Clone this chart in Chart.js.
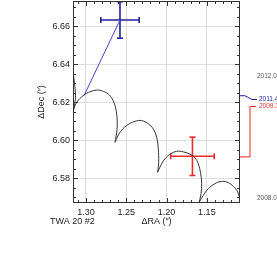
<!DOCTYPE html>
<html>
<head>
<meta charset="utf-8">
<script src="https://cdn.jsdelivr.net/npm/chart.js@4"></script>
<style>
  html, body { margin: 0; padding: 0; background: #fff; }
  #wrap { width: 277px; height: 268px; }
</style>
</head>
<body>
<div id="wrap"><canvas id="chart"></canvas></div>
<script>
// tick values
const raTicks = [1.30, 1.25, 1.20, 1.15];
const decTicks = [6.58, 6.60, 6.62, 6.64, 6.66];

// parallax + proper motion track, one array per hump (cusps between)
const arc0RA  = [1.3186, 1.3161, 1.3143, 1.3130, 1.3140, 1.3161];
const arc0Dec = [6.6407, 6.6355, 6.6302, 6.6234, 6.6192, 6.6152];
const arc1RA  = [1.3161, 1.3115, 1.3025, 1.2950, 1.2867, 1.2785, 1.2723, 1.2674, 1.2640, 1.2619, 1.2612, 1.2619, 1.2640];
const arc1Dec = [6.6152, 6.6199, 6.6238, 6.6255, 6.6264, 6.6257, 6.6243, 6.6217, 6.6182, 6.6138, 6.6086, 6.6041, 6.5989];
const arc2RA  = [1.2640, 1.2578, 1.2495, 1.2392, 1.2309, 1.2227, 1.2165, 1.2123, 1.2103, 1.2098, 1.2110];
const arc2Dec = [6.5989, 6.6041, 6.6077, 6.6099, 6.6103, 6.6086, 6.6059, 6.6015, 6.5954, 6.5884, 6.5831];
const arc3RA  = [1.2110, 1.2082, 1.2020, 1.1937, 1.1855, 1.1772, 1.1710, 1.1648, 1.1607, 1.1577, 1.1565, 1.1573, 1.1594];
const arc3Dec = [6.5831, 6.5858, 6.5902, 6.5931, 6.5942, 6.5936, 6.5926, 6.5907, 6.5876, 6.5823, 6.5771, 6.5718, 6.5674];
const arc4RA  = [1.1594, 1.1545, 1.1483, 1.1400, 1.1316, 1.1234, 1.1172, 1.1118, 1.1089, 1.1075];
const arc4Dec = [6.5674, 6.5709, 6.5744, 6.5771, 6.5783, 6.5776, 6.5756, 6.5727, 6.5683, 6.5650];

// measured positions (blue = 2011.4, red = 2009.1)
const epochs   = ['2011.4', '2009.1'];
const obsRA    = [1.2578, 1.1679];
const obsDec   = [6.6633, 6.5915];
const obsErrRA = [0.0238, 0.0270];
const obsErrDec= [0.0096, 0.0101];
// predicted position on the track at each epoch
const predRA   = [1.3025, 1.1679];
const predDec  = [6.6234, 6.5912];

const timeRange = ['2012.0', '2008.0'];

const BLUE = '#22229a';
const RED = '#ee2a2a';
const FONT = '"Liberation Sans", Arial, Helvetica, sans-serif';

function track(ra, dec) {
    return ra.map((v, i) => ({ x: v, y: dec[i] }));
}

const datasets = [];
[[arc0RA, arc0Dec], [arc1RA, arc1Dec], [arc2RA, arc2Dec], [arc3RA, arc3Dec], [arc4RA, arc4Dec]].forEach(a => {
    datasets.push({
        data: track(a[0], a[1]),
        showLine: true,
        borderColor: '#333',
        borderWidth: 1,
        pointRadius: 0,
        tension: 0.4
    });
});

const colors = [BLUE, RED];
epochs.forEach((ep, i) => {
    // line from measurement to predicted spot
    datasets.push({
        data: [{ x: obsRA[i], y: obsDec[i] }, { x: predRA[i], y: predDec[i] }],
        showLine: true,
        borderColor: i === 0 ? '#4646d6' : RED,
        borderWidth: 1,
        pointRadius: 0
    });
    // horizontal error bar
    datasets.push({
        data: [{ x: obsRA[i] - obsErrRA[i], y: obsDec[i] }, { x: obsRA[i] + obsErrRA[i], y: obsDec[i] }],
        showLine: true,
        borderColor: colors[i],
        borderWidth: 1.6,
        pointStyle: 'line',
        rotation: 90,
        pointRadius: 3,
        pointBorderWidth: 1.6,
        pointBorderColor: colors[i]
    });
    // vertical error bar
    datasets.push({
        data: [{ x: obsRA[i], y: obsDec[i] - obsErrDec[i] }, { x: obsRA[i], y: obsDec[i] + obsErrDec[i] }],
        showLine: true,
        borderColor: colors[i],
        borderWidth: 1.6,
        pointStyle: 'line',
        rotation: 0,
        pointRadius: 3,
        pointBorderWidth: 1.6,
        pointBorderColor: colors[i]
    });
});

// inward ticks, box, titles and the epoch labels on the right
const decorPlugin = {
    id: 'decor',
    afterDraw(chart) {
        const ctx = chart.ctx;
        const a = chart.chartArea;
        const xs = chart.scales.x, ys = chart.scales.y;
        ctx.save();
        ctx.strokeStyle = '#333';
        ctx.lineWidth = 1;
        ctx.strokeRect(a.left + 0.5, a.top + 0.5, a.right - a.left - 1, a.bottom - a.top - 1);

        ctx.beginPath();
        for (let v = 1.10; v <= 1.32; v += 0.01) {
            const px = Math.round(xs.getPixelForValue(v)) + 0.5;
            if (px < a.left || px > a.right) continue;
            const major = Math.abs(v * 20 - Math.round(v * 20)) < 1e-6;
            const len = major ? 5 : 3;
            ctx.moveTo(px, a.bottom); ctx.lineTo(px, a.bottom - len);
            ctx.moveTo(px, a.top); ctx.lineTo(px, a.top + len);
        }
        for (let v = 6.565; v <= 6.675; v += 0.005) {
            const py = Math.round(ys.getPixelForValue(v)) + 0.5;
            if (py < a.top || py > a.bottom) continue;
            const major = Math.abs(v * 50 - Math.round(v * 50)) < 1e-6;
            const len = major ? 5 : 3;
            ctx.moveTo(a.left, py); ctx.lineTo(a.left + len, py);
            ctx.moveTo(a.right, py); ctx.lineTo(a.right - len, py);
        }
        ctx.stroke();

        ctx.fillStyle = '#222';
        ctx.font = '9px ' + FONT;
        ctx.textBaseline = 'middle';
        ctx.textAlign = 'center';
        ctx.fillText('ΔRA (″)', (a.left + a.right) / 2, 222);
        ctx.textAlign = 'left';
        ctx.fillText('TWA 20 #2', 50, 222);
        ctx.save();
        ctx.translate(42, (a.top + a.bottom) / 2);
        ctx.rotate(-Math.PI / 2);
        ctx.textAlign = 'center';
        ctx.fillText('ΔDec (″)', 0, 0);
        ctx.restore();

        // epoch labels
        ctx.font = '6.5px ' + FONT;
        ctx.textAlign = 'left';
        ctx.fillStyle = '#555';
        ctx.fillText(timeRange[0], 257, 76);
        ctx.fillText(timeRange[1], 257, 198);

        const yb = ys.getPixelForValue(predDec[0]);
        ctx.strokeStyle = BLUE;
        ctx.beginPath();
        ctx.moveTo(a.right, yb); ctx.lineTo(a.right + 5, yb);
        ctx.lineTo(a.right + 12, 99.5); ctx.lineTo(a.right + 17, 99.5);
        ctx.stroke();
        ctx.fillStyle = BLUE;
        ctx.fillText(epochs[0], 259, 99.5);

        const yr = ys.getPixelForValue(predDec[1]);
        ctx.strokeStyle = RED;
        ctx.beginPath();
        ctx.moveTo(a.right, yr); ctx.lineTo(a.right + 10, yr);
        ctx.lineTo(a.right + 10, 106.5); ctx.lineTo(a.right + 16, 106.5);
        ctx.stroke();
        ctx.fillStyle = RED;
        ctx.fillText(epochs[1], 259, 106.5);
        ctx.restore();
    }
};

function noPad(s) {
    s.paddingTop = 0; s.paddingBottom = 0; s.paddingLeft = 0; s.paddingRight = 0;
}

new Chart(document.getElementById('chart'), {
    type: 'scatter',
    data: { datasets: datasets },
    options: {
        responsive: true,
        maintainAspectRatio: false,
        animation: false,
        layout: { autoPadding: false, padding: { left: 0, right: 37, top: 1, bottom: 0 } },
        plugins: {
            legend: { display: false },
            tooltip: { enabled: false }
        },
        scales: {
            x: {
                type: 'linear',
                reverse: true,
                min: 1.1089,
                max: 1.3161,
                afterBuildTicks: s => { s.ticks = raTicks.map(v => ({ value: v })); },
                afterFit: s => { s.height = 65; noPad(s); },
                ticks: {
                    callback: v => v.toFixed(2),
                    color: '#222',
                    font: { size: 9, family: FONT },
                    padding: 4,
                    maxRotation: 0,
                    autoSkip: false
                },
                grid: { color: '#dedede', drawTicks: false },
                border: { display: false }
            },
            y: {
                type: 'linear',
                min: 6.5669,
                max: 6.6733,
                afterBuildTicks: s => { s.ticks = decTicks.map(v => ({ value: v })); },
                afterFit: s => { s.width = 73; noPad(s); },
                ticks: {
                    callback: v => v.toFixed(2),
                    color: '#222',
                    font: { size: 9, family: FONT },
                    padding: 3,
                    autoSkip: false
                },
                grid: { color: '#dedede', drawTicks: false },
                border: { display: false }
            }
        }
    },
    plugins: [decorPlugin]
});
</script>
</body>
</html>
